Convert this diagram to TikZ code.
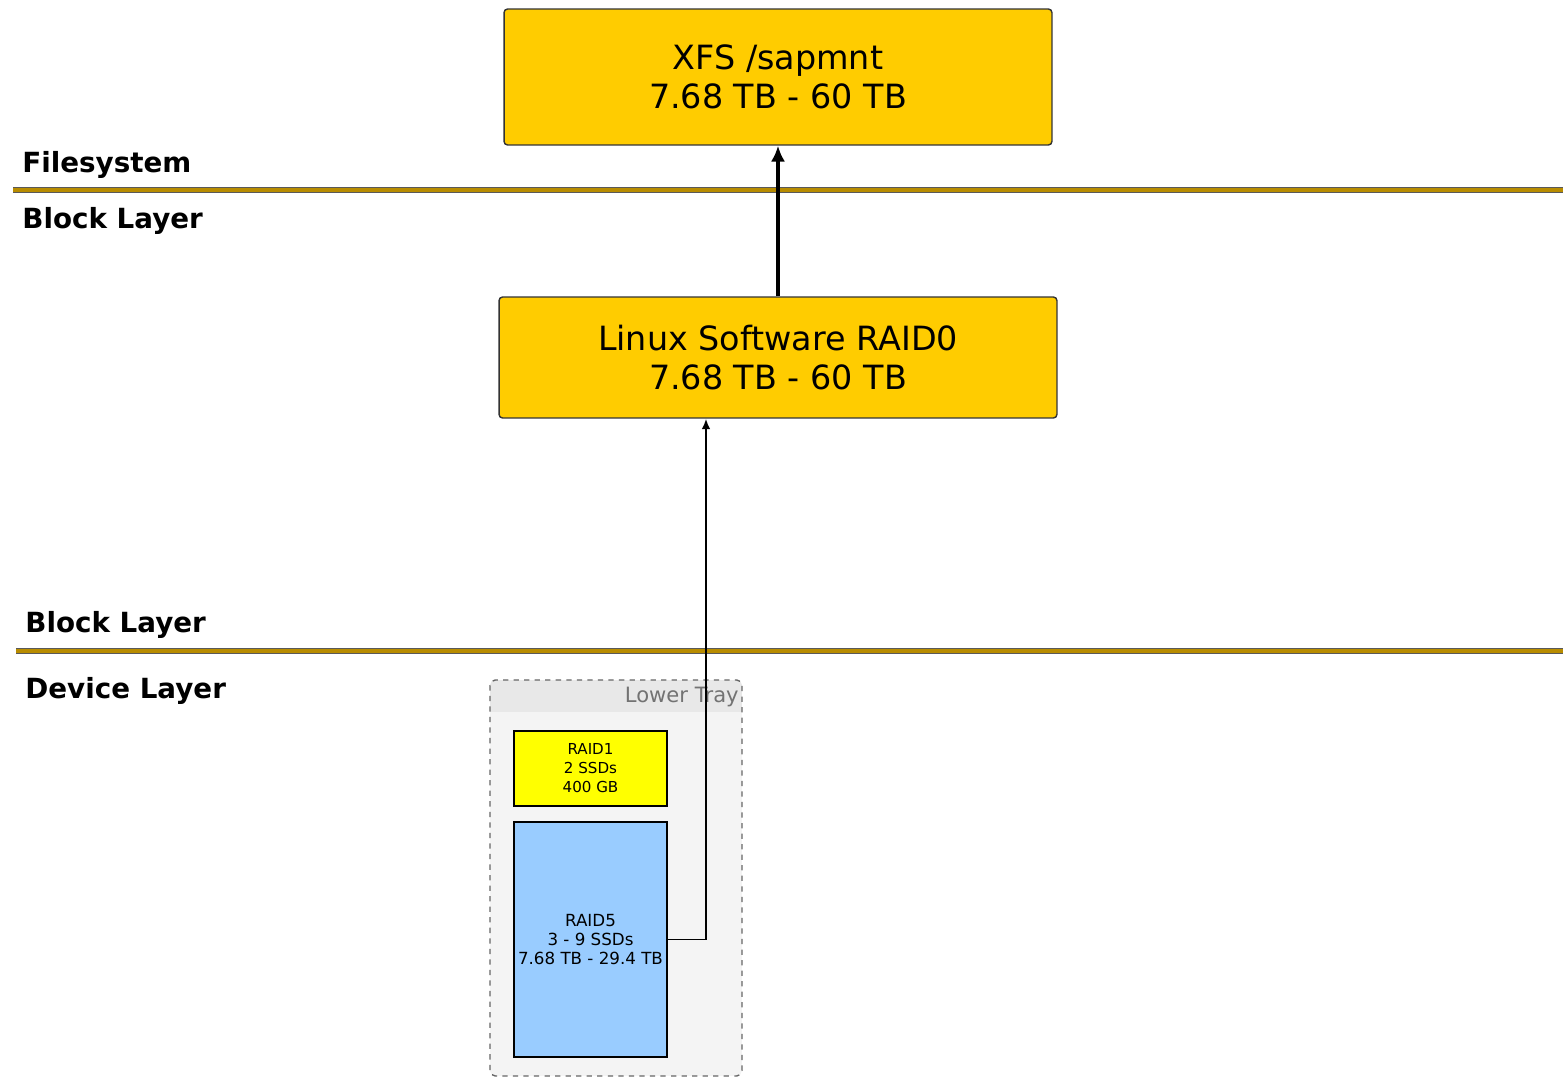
\documentclass[tikz,border=0pt]{standalone}
\usepackage{fontspec}
\setmainfont{DejaVu Sans}
\usetikzlibrary{arrows.meta}
\definecolor{boxgold}{HTML}{FFCC00}
\definecolor{linegold}{HTML}{B88C00}
\definecolor{raidyellow}{HTML}{FFFF00}
\definecolor{raidblue}{HTML}{99CCFF}
\definecolor{traybg}{HTML}{F4F4F4}
\definecolor{trayhead}{HTML}{E8E8E8}
\tikzset{
  bigbox/.style={draw=black!80, fill=boxgold, rounded corners=2pt, line width=0.8pt,
    align=center, font=\fontsize{19pt}{22pt}\selectfont, inner sep=0pt},
  diskbox/.style={draw=black, line width=1pt, align=center, inner sep=0pt},
  layerline/.style={draw=black!65, double=linegold, double distance=1.8pt, line width=0.9pt},
  layerlabel/.style={anchor=west, font=\bfseries\fontsize{15.8pt}{18pt}\selectfont, inner sep=0pt},
  trayborder/.style={draw=black!60, dashed, line width=0.8pt, rounded corners=3pt},
}
\begin{document}
\begin{tikzpicture}[x=0.02cm,y=-0.02cm]
\useasboundingbox (0,0) rectangle (1563,1078);
% layer lines
\coordinate (l1a) at (13,190); \coordinate (l1b) at (1563,190);
\coordinate (l2a) at (16,651); \coordinate (l2b) at (1563,651);
\draw[layerline] (l1a) -- (l1b);
\draw[layerline] (l2a) -- (l2b);
% layer labels
\node[layerlabel] (fs) at (22,164.5) {Filesystem};
\node[layerlabel] (bl1) at (22,221) {Block Layer};
\node[layerlabel] (bl2) at (25,625) {Block Layer};
\node[layerlabel] (dl) at (25,691) {Device Layer};
% boxes
\node[bigbox, minimum width=10.96cm, minimum height=2.72cm] (xfs) at (778,77)
  {XFS /sapmnt\\7.68 TB - 60 TB};
\node[bigbox, minimum width=11.16cm, minimum height=2.42cm] (raid0) at (778,357.5)
  {Linux Software RAID0\\7.68 TB - 60 TB};
% tray
\begin{scope}
  \clip[rounded corners=3pt] (490,680) rectangle (742,1076);
  \fill[traybg] (490,680) rectangle (742,1076);
  \fill[trayhead] (490,680) rectangle (742,712);
\end{scope}
\draw[trayborder] (490,680) rectangle (742,1076);
\node[anchor=east, text=black!55, font=\fontsize{12pt}{14pt}\selectfont, inner sep=0pt] (tray) at (739,697) {Lower Tray};
\node[diskbox, fill=raidyellow, minimum width=3.06cm, minimum height=1.5cm,
  font=\fontsize{8.6pt}{10.8pt}\selectfont] (raid1) at (590.5,768.5)
  {RAID1\\2 SSDs\\400 GB};
\node[diskbox, fill=raidblue, minimum width=3.06cm, minimum height=4.7cm,
  font=\fontsize{9.5pt}{11pt}\selectfont] (raid5) at (590.5,939.5)
  {RAID5\\3 - 9 SSDs\\7.68 TB - 29.4 TB};
% connectors
\draw[line width=2.8pt, -{Latex[length=9pt,width=8pt]}] (raid0.north) -- (xfs.south);
\coordinate (bend) at (706,939.5);
\draw[line width=1.1pt, -{Latex[length=6pt,width=5pt]}] (raid5.east) -- (bend) -- (bend |- raid0.south);
\end{tikzpicture}
\end{document}
